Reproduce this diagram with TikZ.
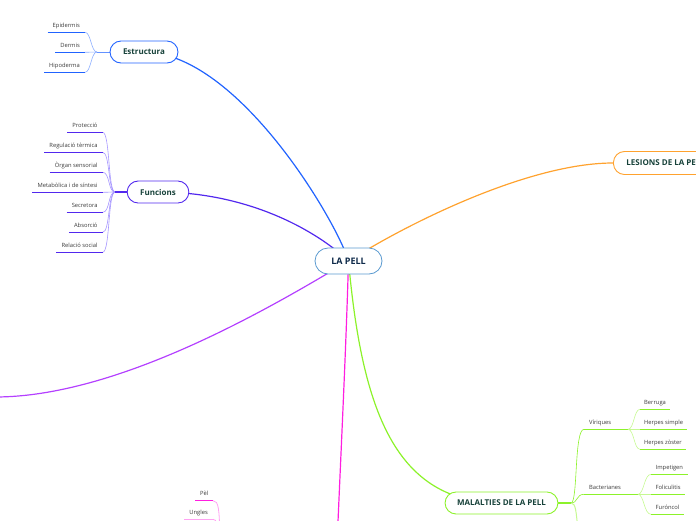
\documentclass[tikz,border=0pt]{standalone}
\usepackage{fontspec}
\setmainfont{Open Sans}
\usetikzlibrary{backgrounds}
\definecolor{blueB}{HTML}{2163FF}
\definecolor{blueL}{HTML}{8CAEFF}
\definecolor{purpB}{HTML}{5228EE}
\definecolor{purpL}{HTML}{A696FF}
\definecolor{orangeB}{HTML}{FFA22E}
\definecolor{violetB}{HTML}{B440FF}
\definecolor{magB}{HTML}{FF1EE0}
\definecolor{magL}{HTML}{FFA2F2}
\definecolor{limeB}{HTML}{8CF22A}
\definecolor{limeL}{HTML}{C6F992}
\definecolor{pellB}{HTML}{5A9AD0}
\definecolor{headtxt}{HTML}{17423A}
\definecolor{pelltxt}{HTML}{0E2A4A}
\definecolor{leaftxt}{HTML}{3A3A3A}
\begin{document}
\begin{tikzpicture}[x=1pt,y=-1pt,
  hub/.style={draw, fill=white, rounded corners=11pt, minimum height=22pt,
    inner xsep=13pt, font=\fontsize{8}{9}\selectfont\bfseries, text=headtxt, line width=0.9pt},
  leaf/.style={font=\fontsize{5.8}{7}\selectfont, text=leaftxt, inner xsep=5pt,
    inner ysep=5pt, text height=4pt, text depth=0pt},
  ul/.style={line width=1.3pt},
  con/.style={line width=0.6pt},
  br/.style={line width=1.2pt}]
\useasboundingbox (0,0) rectangle (696,520);
\clip (0,0) rectangle (696,520);

% hubs
\node[draw=pellB, fill=white, rounded corners=13pt, minimum width=67pt, minimum height=26pt,
  line width=0.8pt, font=\fontsize{9}{10}\selectfont\bfseries, text=pelltxt] (pell) at (348.5,261) {LA PELL};
\node[hub, draw=blueB] (estructura) at (144,52) {Estructura};
\node[hub, draw=purpB] (funcions) at (158,192) {Funcions};
\node[hub, draw=orangeB, anchor=west, minimum height=23pt] (lesions) at (613,163) {LESIONS DE LA PELL};
\node[hub, draw=limeB, inner xsep=12pt] (malalties) at (501.5,503) {MALALTIES DE LA PELL};

% free ends
\coordinate (vfree) at (-5,397);
\coordinate (mfree) at (337,545);
\coordinate (ej) at (97,52);
\coordinate (fj) at (115,192);
\coordinate (mj) at (571,503);
\coordinate (mdown) at (578,530);
\coordinate (vj) at (628,429.3);
\coordinate (bj) at (638,494.3);
\coordinate (pfree) at (220,535);
\coordinate (ufree) at (218,535);

% Estructura leaves
\node[leaf, anchor=south east] (e1) at (85,32.3) {Epidermis};
\node[leaf, anchor=south east] (e2) at (85,52.3) {Dermis};
\node[leaf, anchor=south east] (e3) at (85,72.3) {Hipoderma};
\foreach \n in {e1,e2,e3} \draw[ul, blueB] (\n.south west) -- (\n.south east);

% Funcions leaves
\foreach \n/\y/\t in {f1/132.3/Protecció, f2/152.3/Regulació tèrmica, f3/172.3/Òrgan sensorial,
  f4/192.3/Metabòlica i de síntesi, f5/212.3/Secretora, f6/232.3/Absorció, f7/252.3/Relació social}
  {\node[leaf, anchor=south east] (\n) at (102.7,\y) {\t};
   \draw[ul, purpB] (\n.south west) -- (\n.south east);}

% Malalties leaves
\node[leaf, anchor=south west] (vir) at (584,429.3) {Víriques};
\node[leaf, anchor=south west] (bac) at (584,494.3) {Bacterianes};
\node[leaf, anchor=south west, inner xsep=4pt] (v1) at (640,409.3) {Berruga};
\node[leaf, anchor=south west, inner xsep=4pt] (v2) at (640,429.3) {Herpes simple};
\node[leaf, anchor=south west, inner xsep=4pt] (v3) at (640,449.3) {Herpes zòster};
\node[leaf, anchor=south west, inner xsep=4.5pt] (b1) at (651,474.3) {Impetigen};
\node[leaf, anchor=south west, inner xsep=4.5pt] (b2) at (651,494.3) {Foliculitis};
\node[leaf, anchor=south west, inner xsep=4.5pt] (b3) at (651,514.3) {Furóncol};
\foreach \n in {vir,bac,v1,v2,v3,b1,b2,b3} \draw[ul, limeB] (\n.south west) -- (\n.south east);

% Pel / Ungles
\node[leaf, anchor=south east, inner xsep=4.5pt] (pel) at (213,500.7) {Pèl};
\node[leaf, anchor=south east] (ungles) at (213,519.3) {Ungles};
\draw[ul, magB] (pel.south west) -- (pel.south east);
\draw[ul, magL] (ungles.south west) -- (ungles.south east);

\begin{pgfonlayer}{background}
% main branches
\draw[br, blueB] (pell.center) .. controls (337,222) and (238,53) .. (estructura.center);
\draw[br, purpB] (pell.center) .. controls (318,232) and (250,192) .. (funcions.center);
\draw[br, orangeB] (pell.center) .. controls (410,222) and (530,163) .. (lesions.west);
\draw[br, violetB] (pell.center) .. controls (275,305) and (120,397) .. (vfree);
\draw[br, magB] (pell.center) .. controls (346,350) and (341,450) .. (mfree);
\draw[br, limeB] (pell.center) .. controls (362,410) and (395,503) .. (malalties.center);

% Estructura connectors
\draw[con, blueL] (e1.south east) .. controls (91,32.3) and (91,52) .. (ej);
\draw[con, blueL] (e3.south east) .. controls (91,72.3) and (91,52) .. (ej);
\draw[con, blueL] (e2.south east) -- (ej);
\draw[line width=0.9pt, blueB!70] (ej) -- (estructura.center);

% Funcions connectors
\foreach \n/\y in {f1/132.3, f2/152.3, f3/172.3, f4/192.3, f5/212.3, f6/232.3, f7/252.3}
  \draw[con, purpL] (\n.south east) .. controls (110,\y) and (108,192) .. (fj);
\draw[line width=1.2pt, purpB] (fj) -- (funcions.center);

% Malalties connectors
\draw[line width=1.2pt, limeB] (malalties.center) -- (mj);
\draw[con, limeB] (mj) .. controls (578,503) and (574,429.3) .. (vir.south west);
\draw[con, limeB] (mj) .. controls (578,503) and (576,494.3) .. (bac.south west);
\draw[con, limeL, line width=1pt] (mj) .. controls (576,503) and (576,512) .. (mdown);
\draw[con, limeB] (vir.south east) -- (vj);
\foreach \n/\y in {v1/409.3, v2/429.3, v3/449.3}
  \draw[con, limeL] (vj) .. controls (634,429.3) and (634,\y) .. (\n.south west);
\draw[con, limeB] (bac.south east) -- (bj);
\foreach \n/\y in {b1/474.3, b2/494.3, b3/514.3}
  \draw[con, limeL] (bj) .. controls (644,494.3) and (644,\y) .. (\n.south west);

% Pel / Ungles connectors
\draw[con, magL, line width=0.8pt] (pel.south east) .. controls (219,500.7) and (219,510) .. (pfree);
\draw[con, magL, line width=0.8pt] (ungles.south east) .. controls (217,519.3) and (218,525) .. (ufree);
\end{pgfonlayer}
\end{tikzpicture}
\end{document}
